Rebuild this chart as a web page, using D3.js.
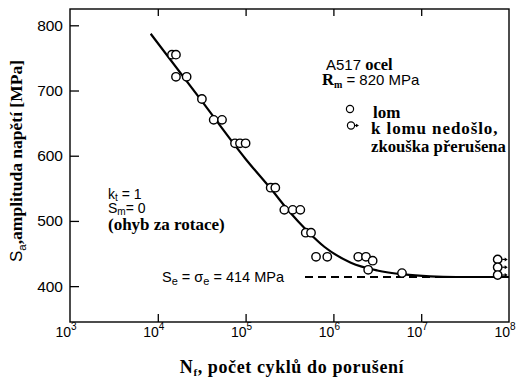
<!DOCTYPE html>
<html>
<head>
<meta charset="utf-8">
<script src="https://cdn.jsdelivr.net/npm/d3@7"></script>
<style>
  html, body { margin: 0; padding: 0; background: #fff; }
  svg { display: block; }
</style>
</head>
<body>
<svg id="chart" width="517" height="382"></svg>
<script>
// S-N (Wöhler) curve for A517 steel, rotating bending
const xTickValues = [1e3, 1e4, 1e5, 1e6, 1e7, 1e8];
const xTickExponents = ["3", "4", "5", "6", "7", "8"];
const yTickValues = [400, 500, 600, 700, 800];

// specimens that fractured (cycles, stress amplitude MPa)
const failN = [14500, 16100, 16100, 21300, 31800, 43300, 53900, 75700, 86300, 100000,
               193000, 218000, 276000, 344000, 420000, 484000, 556000, 634000, 852000,
               1920000, 2350000, 2800000, 2490000, 6040000];
const failS = [755, 755, 721, 721, 687, 655, 655, 619, 619, 619,
               551, 551, 517, 517, 517, 482, 482, 445, 445,
               445, 445, 439, 425, 420];

// run-outs: tests stopped without fracture
const runoutN = [74300000, 74300000, 74300000];
const runoutS = [441, 429, 417];

// fitted S-N curve
const fitN = [8300, 31600, 100000, 200000, 316000, 501000, 794000, 1580000, 3160000,
              6310000, 12600000, 25100000, 100000000];
const fitS = [787, 684, 595, 547, 514, 485, 460, 436, 424, 418, 415, 414, 414];

const enduranceLimit = 414;

const SANS = "'Liberation Sans', Arial, Helvetica, sans-serif";
const SERIF = "'Liberation Serif', 'Times New Roman', Times, serif";

const svg = d3.select("#chart");
const plotLeft = 70, plotRight = 509, plotTop = 9, plotBottom = 322;

const x = d3.scaleLog().domain([1e3, 1e8]).range([plotLeft, plotRight]);
const y = d3.scaleLinear().domain([345, 825]).range([plotBottom, plotTop]);

// helpers for the two type faces
const sans = (sel, size) => sel.attr("font-family", SANS).attr("font-size", size);
const serif = (sel, size) => sel.attr("font-family", SERIF).attr("font-weight", "bold").attr("font-size", size);

// frame
svg.append("rect")
  .attr("x", plotLeft).attr("y", plotTop)
  .attr("width", plotRight - plotLeft).attr("height", plotBottom - plotTop)
  .attr("fill", "none").attr("stroke", "#000").attr("stroke-width", 1.4);

// inward ticks on bottom, top and left
const inner = [1e4, 1e5, 1e6, 1e7];
svg.append("g").attr("transform", `translate(0,${plotBottom})`)
  .call(d3.axisBottom(x).tickValues(inner).tickSize(-8).tickFormat(""))
  .call(g => g.select(".domain").remove())
  .call(g => g.selectAll("line").attr("stroke-width", 1.3));
svg.append("g").attr("transform", `translate(0,${plotTop})`)
  .call(d3.axisTop(x).tickValues(inner).tickSize(-7).tickFormat(""))
  .call(g => g.select(".domain").remove())
  .call(g => g.selectAll("line").attr("stroke-width", 1.3));
svg.append("g").attr("transform", `translate(${plotLeft},0)`)
  .call(d3.axisLeft(y).tickValues(yTickValues).tickSize(-9).tickFormat(""))
  .call(g => g.select(".domain").remove())
  .call(g => g.selectAll("line").attr("stroke-width", 1.3));

// y tick labels
svg.append("g").selectAll("text").data(yTickValues).join("text")
  .call(sans, 15.5)
  .attr("x", plotLeft - 7).attr("y", d => y(d) + 5.5)
  .attr("text-anchor", "end")
  .text(d => d);

// x tick labels 10^n
const xl = svg.append("g").selectAll("text").data(xTickValues).join("text")
  .call(sans, 14)
  .attr("x", d => x(d) - 4).attr("y", 337)
  .attr("text-anchor", "middle");
xl.append("tspan").text("10");
xl.append("tspan").attr("dy", -7).attr("font-size", 10).text((d, i) => xTickExponents[i]);

// axis titles
const xt = svg.append("text").call(serif, 18)
  .attr("x", 292).attr("y", 373).attr("text-anchor", "middle")
  .attr("letter-spacing", 0.6);
xt.append("tspan").text("N");
xt.append("tspan").attr("dy", 3).attr("font-size", 11).text("f");
xt.append("tspan").attr("dy", -3).text(", počet cyklů do porušení");

const yt = svg.append("text")
  .attr("transform", "translate(22,161) rotate(-90)")
  .attr("text-anchor", "middle");
yt.append("tspan").call(sans, 17).text("S");
yt.append("tspan").call(sans, 11.5).attr("dy", 4).text("a");
yt.append("tspan").call(serif, 17.5).attr("dy", -4).text(",amplituda napětí [MPa]");

// endurance limit
svg.append("line")
  .attr("x1", 305).attr("x2", plotRight)
  .attr("y1", y(enduranceLimit)).attr("y2", y(enduranceLimit))
  .attr("stroke", "#000").attr("stroke-width", 2)
  .attr("stroke-dasharray", "8,5");

const se = svg.append("text").call(sans, 14.5)
  .attr("x", 162).attr("y", y(enduranceLimit) + 5);
se.append("tspan").text("S");
se.append("tspan").attr("dy", 3).attr("font-size", 11).text("e");
se.append("tspan").attr("dy", -3).text(" = σ");
se.append("tspan").attr("dy", 3).attr("font-size", 11).text("e");
se.append("tspan").attr("dy", -3).text(" = " + enduranceLimit + " MPa");

// fitted curve
const fit = fitN.map((n, i) => [n, fitS[i]]);
svg.append("path")
  .datum(fit)
  .attr("fill", "none").attr("stroke", "#000").attr("stroke-width", 2.2)
  .attr("d", d3.line().x(d => x(d[0])).y(d => y(d[1])).curve(d3.curveMonotoneX));

// fracture points
const fails = failN.map((n, i) => [n, failS[i]]);
svg.append("g").selectAll("circle").data(fails).join("circle")
  .attr("cx", d => x(d[0])).attr("cy", d => y(d[1])).attr("r", 4.2)
  .attr("fill", "#fff").attr("stroke", "#000").attr("stroke-width", 1.4);

// run-outs with arrows
const runs = runoutN.map((n, i) => [n, runoutS[i]]);
const rg = svg.append("g").selectAll("g").data(runs).join("g")
  .attr("transform", d => `translate(${x(d[0])},${y(d[1])})`);
rg.append("line").attr("x1", 4.5).attr("x2", 8).attr("y1", 0).attr("y2", 0)
  .attr("stroke", "#000").attr("stroke-width", 1.2);
rg.append("path").attr("d", "M7,-2L10,0L7,2Z").attr("fill", "#000");
rg.append("circle").attr("r", 4.2)
  .attr("fill", "#fff").attr("stroke", "#000").attr("stroke-width", 1.4);

// material annotation
const m1 = svg.append("text").attr("x", 326).attr("y", 70);
m1.append("tspan").call(sans, 15).text("A517 ");
m1.append("tspan").call(serif, 16.5).text("ocel");
const m2 = svg.append("text").attr("x", 322).attr("y", 85);
m2.append("tspan").call(serif, 16.5).text("R");
m2.append("tspan").call(serif, 10).attr("dy", 3).text("m");
m2.append("tspan").call(sans, 15).attr("dy", -3).text(" = 820 MPa");

// legend
svg.append("circle").attr("cx", 350).attr("cy", 109).attr("r", 3.6)
  .attr("fill", "#fff").attr("stroke", "#000").attr("stroke-width", 1.2);
svg.append("text").call(serif, 17).attr("x", 373).attr("y", 117.5).text("lom");
svg.append("line").attr("x1", 354).attr("x2", 357).attr("y1", 125.5).attr("y2", 125.5)
  .attr("stroke", "#000").attr("stroke-width", 1.2);
svg.append("path").attr("d", "M356,123.8L359,125.5L356,127.2Z").attr("fill", "#000");
svg.append("circle").attr("cx", 351).attr("cy", 125.5).attr("r", 3.6)
  .attr("fill", "#fff").attr("stroke", "#000").attr("stroke-width", 1.2);
svg.append("text").call(serif, 17).attr("x", 371).attr("y", 133.5)
  .attr("letter-spacing", 0.9).text("k lomu nedošlo,");
svg.append("text").call(serif, 16.7).attr("x", 371).attr("y", 151.5).text("zkouška přerušena");

// test conditions
const c1 = svg.append("text").call(sans, 14).attr("x", 108).attr("y", 198.5);
c1.append("tspan").text("k");
c1.append("tspan").attr("dy", 2).attr("font-size", 10).text("t");
c1.append("tspan").attr("dy", -2).text(" = 1");
const c2 = svg.append("text").call(sans, 14).attr("x", 108).attr("y", 212.5);
c2.append("tspan").text("S");
c2.append("tspan").attr("dy", 2).attr("font-size", 10).text("m");
c2.append("tspan").attr("dy", -2).text("= 0");
svg.append("text").call(serif, 17).attr("x", 108).attr("y", 230).text("(ohyb za rotace)");
</script>
</body>
</html>
